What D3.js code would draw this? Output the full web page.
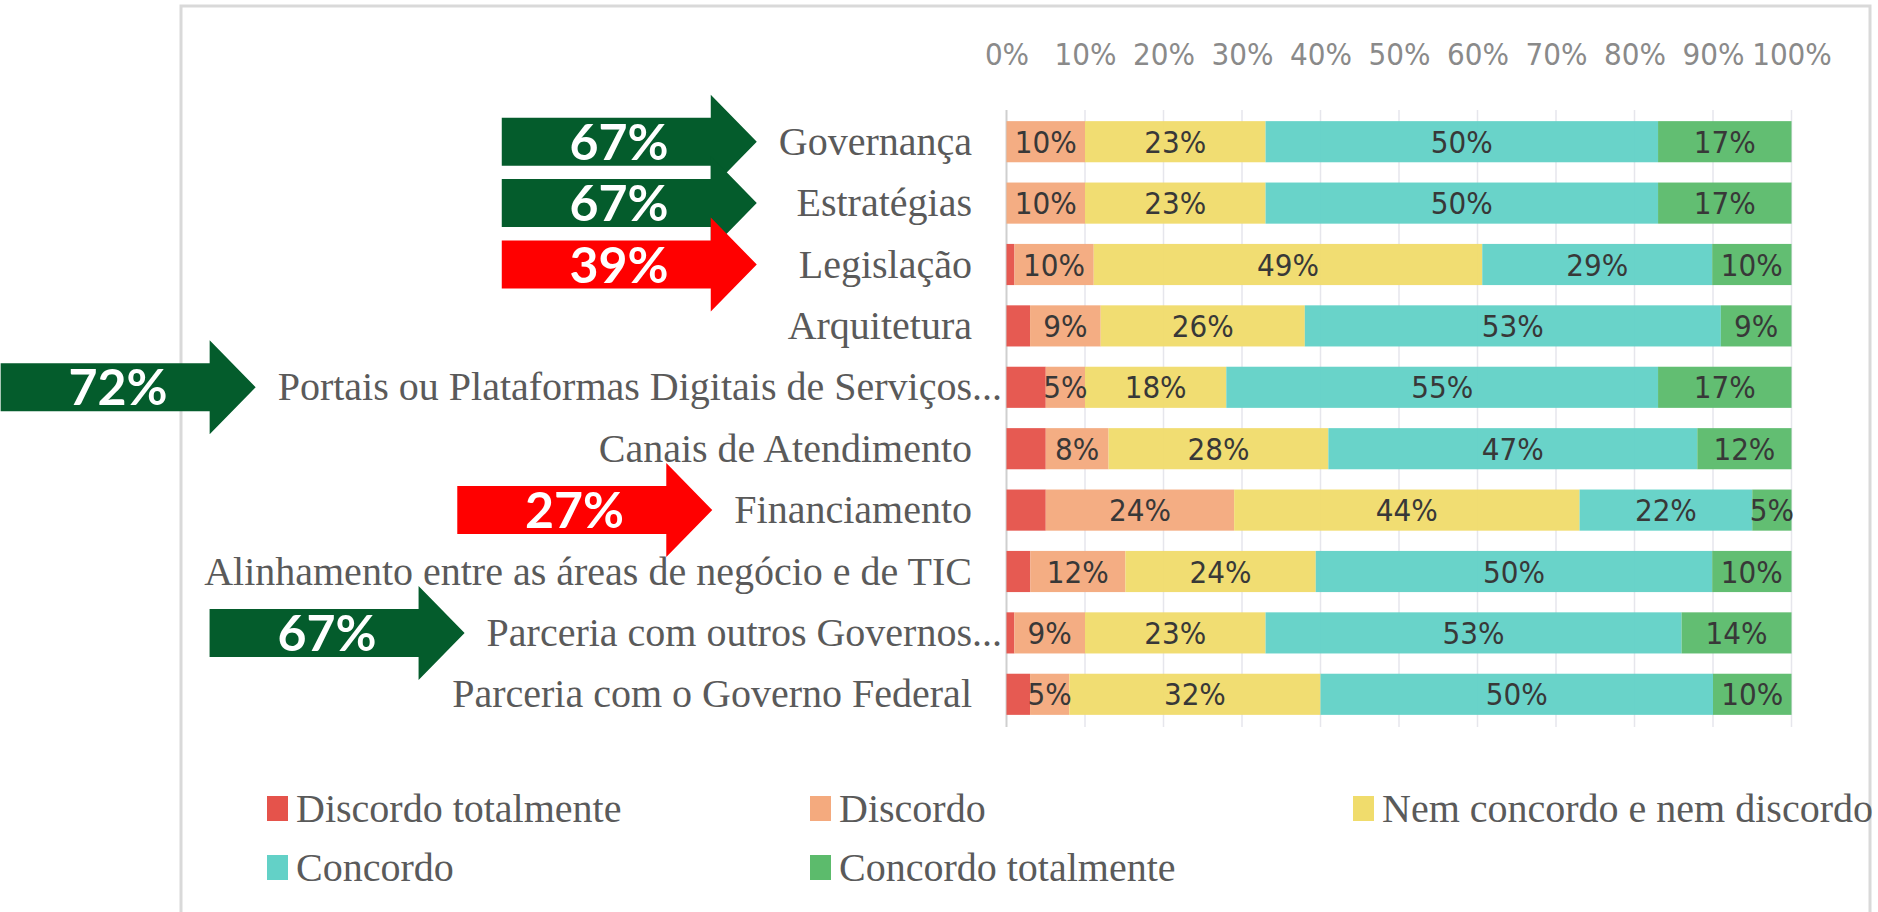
<!DOCTYPE html>
<html>
<head>
<meta charset="utf-8">
<script src="https://cdn.jsdelivr.net/npm/d3@7"></script>
<style>
body{margin:0;background:#fff}
svg{display:block}
</style>
</head>
<body>
<div id="chart"></div>
<script>
const categories = ["Governança","Estratégias","Legislação","Arquitetura","Portais ou Plataformas Digitais de Serviços...","Canais de Atendimento","Financiamento","Alinhamento entre as áreas de negócio e de TIC","Parceria com outros Governos...","Parceria com o Governo Federal"]
const seriesNames = ["Discordo totalmente","Discordo","Nem concordo e nem discordo","Concordo","Concordo totalmente"]
const discordoTotalmente = [0,0,1,3,5,5,5,3,1,3]
const discordo = [10,10,10,9,5,8,24,12,9,5]
const nemConcordo = [23,23,49,26,18,28,44,24,23,32]
const concordo = [50,50,29,53,55,47,22,50,53,50]
const concordoTotalmente = [17,17,10,9,17,12,5,10,14,10]
const xTicks = [0,0.1,0.2,0.3,0.4,0.5,0.6,0.7,0.8,0.9,1]
// arrows: category + whether the agreement share is good or bad
const highlights = [
  {category:"Governança", tone:"good"},
  {category:"Estratégias", tone:"good"},
  {category:"Legislação", tone:"bad"},
  {category:"Portais ou Plataformas Digitais de Serviços...", tone:"good"},
  {category:"Financiamento", tone:"bad"},
  {category:"Parceria com outros Governos...", tone:"good"}
]

const seriesColors = ["#e5534b","#f4aa7e","#f0dc6c","#63d1c7","#5cbb6c"]
const serifFont = "'Liberation Serif','Times New Roman',serif"
const narrowFont = "'Liberation Sans Narrow','DejaVu Sans Condensed',sans-serif"

drawChart("#chart")

function drawChart(id){
  const canvas = createCanvas()
  const svg = addSvg(id,canvas)
  const sc = addScales(canvas)
  const table = buildTable()

  addFrame(svg,canvas)
  addGrid(svg,sc,canvas)
  addBars(svg,sc,table)
  addTopAxis(svg,sc,canvas)
  const labels = addCategoryLabels(svg,sc,canvas)
  addArrows(svg,sc,table,labels)
  addLegend(svg,canvas)
}

function createCanvas(){
  return {
    width:1878, height:912,
    plot:{left:1006.5, right:1791.5, top:111, bottom:725},
    labelX:972
  }
}

function addSvg(id,canvas){
  return d3.select(id).append("svg")
    .attr("width",canvas.width).attr("height",canvas.height)
    .attr("viewBox",`0 0 ${canvas.width} ${canvas.height}`)
}

function buildTable(){
  return categories.map((c,i) => ({
    category:c,
    "Discordo totalmente":discordoTotalmente[i],
    "Discordo":discordo[i],
    "Nem concordo e nem discordo":nemConcordo[i],
    "Concordo":concordo[i],
    "Concordo totalmente":concordoTotalmente[i]
  }))
}

function addScales(canvas){
  const xScale = d3.scaleLinear().domain([0,1]).range([canvas.plot.left,canvas.plot.right])
  const yScale = d3.scaleBand().domain(categories)
    .range([canvas.plot.top,canvas.plot.bottom])
    .paddingInner(0.33).paddingOuter(0.165)
  const color = d3.scaleOrdinal().domain(seriesNames).range(seriesColors)
  return {xScale,yScale,color}
}

function addFrame(svg,canvas){
  svg.append("path")
    .attr("d",`M181,${canvas.height+5} V6 H1870 V${canvas.height+5}`)
    .attr("fill","none").attr("stroke","#d9d9d9").attr("stroke-width",3)
}

function addGrid(svg,sc,canvas){
  svg.append("g").selectAll("line").data(xTicks).enter()
    .append("line")
    .attr("x1",d => sc.xScale(d)).attr("x2",d => sc.xScale(d))
    .attr("y1",canvas.plot.top - 1).attr("y2",canvas.plot.bottom + 2)
    .attr("stroke",d => d === 0 ? "#cfcfcf" : "#e6e6ec")
    .attr("stroke-width",d => d === 0 ? 2 : 1.5)
}

function addBars(svg,sc,table){
  const stack = d3.stack().keys(seriesNames).offset(d3.stackOffsetExpand)
  const layers = stack(table)

  const g = svg.selectAll("g.layer").data(layers).enter()
    .append("g").attr("class","layer").attr("fill",d => sc.color(d.key))

  g.selectAll("rect").data(d => d).enter()
    .append("rect")
    .attr("x",d => sc.xScale(d[0]))
    .attr("width",d => sc.xScale(d[1]) - sc.xScale(d[0]))
    .attr("y",d => sc.yScale(d.data.category))
    .attr("height",sc.yScale.bandwidth())
    .attr("opacity",0.96)

  // value labels, the first series carries none
  layers.slice(1).forEach(layer => {
    svg.append("g").selectAll("text").data(layer).enter()
      .append("text")
      .attr("x",d => (sc.xScale(d[0]) + sc.xScale(d[1])) / 2)
      .attr("y",d => sc.yScale(d.data.category) + sc.yScale.bandwidth() / 2 + 11)
      .attr("text-anchor","middle")
      .attr("font-family",narrowFont).attr("font-size","31px")
      .attr("fill","#383838")
      .text(d => d.data[layer.key] + "%")
  })
}

function addTopAxis(svg,sc,canvas){
  const axis = d3.axisTop(sc.xScale).tickValues(xTicks)
    .tickFormat(d3.format(".0%")).tickSize(0).tickPadding(3)

  const g = svg.append("g").attr("transform","translate(0,68)").call(axis)
  g.select(".domain").remove()
  g.selectAll("text")
    .attr("font-family",narrowFont).attr("font-size","31px").attr("fill","#8a8a8a")
}

function addCategoryLabels(svg,sc,canvas){
  const labels = {}
  categories.forEach(c => {
    const main = c.replace(/\.\.\.$/,"")
    const y = sc.yScale(c) + sc.yScale.bandwidth() / 2 + 13
    const t = svg.append("text")
      .attr("x",canvas.labelX).attr("y",y)
      .attr("text-anchor","end")
      .attr("font-family",serifFont).attr("font-size","40px").attr("fill","#5a5a5a")
      .text(main)
    if(main !== c){
      svg.append("text")
        .attr("x",canvas.labelX).attr("y",y)
        .attr("font-family",serifFont).attr("font-size","40px").attr("fill","#5a5a5a")
        .text("...")
    }
    labels[c] = canvas.labelX - t.node().getComputedTextLength()
  })
  return labels
}

function addArrows(svg,sc,table,labels){
  const L = 255, head = 46, bodyH = 24, headH = 47
  const rowIndex = c => categories.indexOf(c)

  // arrows on neighbouring rows line up on the leftmost label of their run
  const tips = {}
  highlights.forEach((h,i) => {
    let run = [h.category]
    let j = i - 1
    while(j >= 0 && rowIndex(highlights[j].category) === rowIndex(run[0]) - 1){ run.unshift(highlights[j].category); j-- }
    j = i + 1
    while(j < highlights.length && rowIndex(highlights[j].category) === rowIndex(run[run.length-1]) + 1){ run.push(highlights[j].category); j++ }
    tips[h.category] = d3.min(run,c => labels[c]) - 22
  })

  highlights.forEach(h => {
    const row = table.find(r => r.category === h.category)
    const share = row["Concordo"] + row["Concordo totalmente"]
    const tip = tips[h.category]
    const cy = sc.yScale(h.category) + sc.yScale.bandwidth() / 2
    const x0 = tip - L

    const pts = [[x0,cy-bodyH],[tip-head,cy-bodyH],[tip-head,cy-headH],[tip,cy],
      [tip-head,cy+headH],[tip-head,cy+bodyH],[x0,cy+bodyH]]

    svg.append("path")
      .attr("d",d3.line()(pts) + "Z")
      .attr("fill",h.tone === "good" ? "#045c2c" : "#ff0000")

    svg.append("text")
      .attr("x",x0 + L * 0.46).attr("y",cy + 18)
      .attr("text-anchor","middle")
      .attr("font-family","Lato,'Open Sans',sans-serif").attr("font-weight",700)
      .attr("font-size","50px").attr("fill","#fff")
      .text(share + "%")
  })
}

function addLegend(svg,canvas){
  const g = svg.append("g")
  seriesNames.forEach((s,i) => {
    const x = 267 + (i % 3) * 543
    const y = 796 + Math.floor(i / 3) * 59

    g.append("rect").attr("x",x).attr("y",y).attr("width",21).attr("height",25)
      .attr("fill",seriesColors[i])
    g.append("text").attr("x",x + 29).attr("y",y + 26)
      .attr("font-family",serifFont).attr("font-size","40px").attr("fill","#5a5a5a")
      .text(s)
  })
}
</script>
</body>
</html>
